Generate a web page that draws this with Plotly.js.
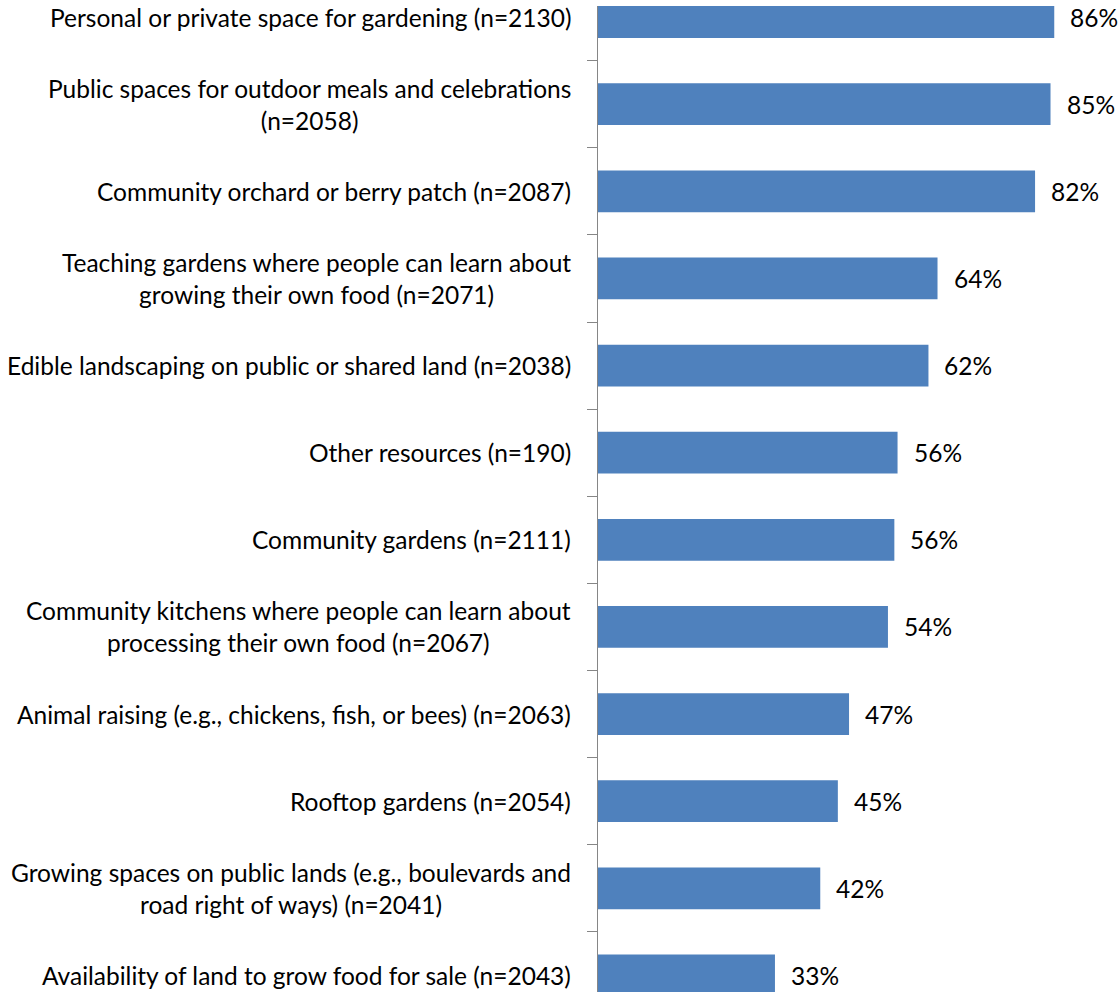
<!DOCTYPE html>
<html>
<head>
<meta charset="utf-8">
<script src="https://cdn.plot.ly/plotly-3.0.1.min.js"></script>
<style>html,body{margin:0;padding:0;background:#fff;}#chart{width:1118px;height:992px;}</style>
</head>
<body>
<div id="chart"></div>
<script>
var categories = [
  "Personal or private space for gardening (n=2130)",
  "Public spaces for outdoor meals and celebrations<br>(n=2058)",
  "Community orchard or berry patch (n=2087)",
  "Teaching gardens where people can learn about<br>growing their own food (n=2071)",
  "Edible landscaping on public or shared land (n=2038)",
  "Other resources (n=190)",
  "Community gardens (n=2111)",
  "Community kitchens where people can learn about<br>processing their own food (n=2067)",
  "Animal raising (e.g., chickens, fish, or bees) (n=2063)",
  "Rooftop gardens (n=2054)",
  "Growing spaces on public lands (e.g., boulevards and<br>road right of ways) (n=2041)",
  "Availability of land to grow food for sale (n=2043)"
];
var values = [85.6, 84.9, 82.0, 63.7, 62.0, 56.2, 55.6, 54.4, 47.1, 45.0, 41.7, 33.2];
var valueLabels = ["86%", "85%", "82%", "64%", "62%", "56%", "56%", "54%", "47%", "45%", "42%", "33%"];

var FONT = "Lato, 'Open Sans', sans-serif";
var annotations = [];
categories.forEach(function (c, i) {
  annotations.push({
    xref: "paper", yref: "y", x: 0, y: c,
    xanchor: "right", yanchor: "middle", xshift: -25,
    text: c, align: "center", showarrow: false,
    font: {family: FONT, size: 24.5, color: "#000"}
  });
  annotations.push({
    xref: "x", yref: "y", x: values[i], y: c,
    xanchor: "left", yanchor: "middle", xshift: 14,
    text: valueLabels[i], showarrow: false,
    font: {family: FONT, size: 24.5, color: "#000"}
  });
});

var trace = {
  type: "bar", orientation: "h",
  x: values, y: categories,
  marker: {color: "#4F81BD", line: {width: 0}},
  hoverinfo: "none"
};

var layout = {
  width: 1118, height: 992,
  margin: {l: 598, r: 0, t: 6, b: 0, pad: 0},
  paper_bgcolor: "#fff", plot_bgcolor: "#fff",
  showlegend: false,
  bargap: 0.52,
  xaxis: {range: [0, 97.56], visible: false, fixedrange: true},
  yaxis: {
    type: "category", range: [11.19, -0.127],
    showline: true, linecolor: "#868686", linewidth: 1,
    ticks: "outside", tickson: "boundaries", ticklen: 10, tickcolor: "#868686", tickwidth: 1,
    showticklabels: false, showgrid: false, zeroline: false, fixedrange: true
  },
  annotations: annotations
};

Plotly.newPlot("chart", [trace], layout, {displayModeBar: false, staticPlot: true});
</script>
</body>
</html>
